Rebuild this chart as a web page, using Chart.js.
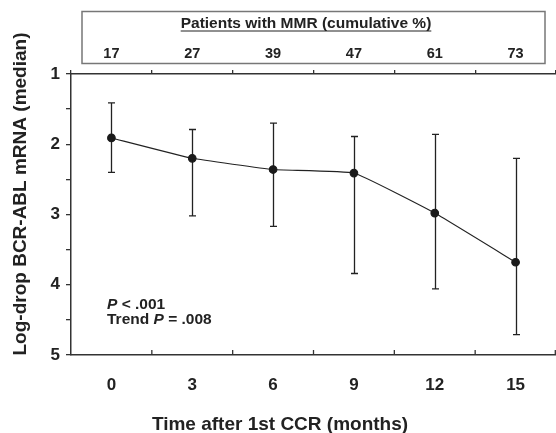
<!DOCTYPE html>
<html>
<head>
<meta charset="utf-8">
<script src="https://cdn.jsdelivr.net/npm/chart.js@4"></script>
<style>
  body { margin: 0; background: #fff; }
  #wrap { width: 556px; height: 433px; }
</style>
</head>
<body>
<div id="wrap"><canvas id="chart" width="556" height="433"></canvas></div>
<script>
const months = ["0", "3", "6", "9", "12", "15"];
const mmrPercent = [17, 27, 39, 47, 61, 73];
const medianLogDrop = [1.91, 2.20, 2.36, 2.41, 2.98, 3.68];
const errTop = [1.41, 1.79, 1.70, 1.89, 1.86, 2.20];
const errBottom = [2.40, 3.02, 3.17, 3.84, 4.06, 4.71];

const FONT = "'Liberation Sans', Arial, sans-serif";
const INK = "#222";
const AXIS = "#333";

// error bars, box on top, inner ticks, titles
const extras = {
    id: "extras",
    beforeDatasetsDraw(chart) {
        const ctx = chart.ctx;
        const x = chart.scales.x, y = chart.scales.y;
        ctx.save();
        ctx.strokeStyle = INK;
        ctx.lineWidth = 1.3;
        for (let i = 0; i < months.length; i++) {
            const px = Math.round(x.getPixelForValue(i)) + 0.5;
            const top = y.getPixelForValue(errTop[i]);
            const bot = y.getPixelForValue(errBottom[i]);
            ctx.beginPath();
            ctx.moveTo(px, top); ctx.lineTo(px, bot);
            ctx.moveTo(px - 3.5, top); ctx.lineTo(px + 3.5, top);
            ctx.moveTo(px - 3.5, bot); ctx.lineTo(px + 3.5, bot);
            ctx.stroke();
        }
        ctx.restore();
    },
    afterDraw(chart) {
        const ctx = chart.ctx;
        const x = chart.scales.x;
        const area = chart.chartArea;
        ctx.save();

        // inward tick marks on bottom axis
        ctx.strokeStyle = AXIS;
        ctx.lineWidth = 1.3;
        for (let i = 0; i < months.length; i++) {
            const right = i < months.length - 1
                ? (x.getPixelForValue(i) + x.getPixelForValue(i + 1)) / 2
                : area.right - 0.7;
            ctx.beginPath();
            ctx.moveTo(right, area.bottom);
            ctx.lineTo(right, area.bottom - 5);
            ctx.stroke();
        }

        // box with MMR percentages
        ctx.strokeStyle = "#777";
        ctx.lineWidth = 1.5;
        ctx.strokeRect(82, 11.5, 463, 52);

        ctx.fillStyle = INK;
        ctx.textAlign = "center";
        ctx.textBaseline = "alphabetic";
        ctx.font = "bold 15.5px " + FONT;
        const boxTitle = "Patients with MMR (cumulative %)";
        ctx.fillText(boxTitle, 306, 28);
        const tw = ctx.measureText(boxTitle).width;
        ctx.strokeStyle = INK;
        ctx.lineWidth = 1.2;
        ctx.beginPath();
        ctx.moveTo(306 - tw / 2, 31); ctx.lineTo(306 + tw / 2, 31);
        ctx.stroke();

        ctx.font = "bold 14.5px " + FONT;
        mmrPercent.forEach((v, i) => {
            ctx.fillText(String(v), x.getPixelForValue(i), 57.5);
        });

        // axis titles
        ctx.font = "bold 19px " + FONT;
        ctx.fillText("Time after 1st CCR (months)", 280, 430);
        ctx.save();
        ctx.translate(26, 194);
        ctx.rotate(-Math.PI / 2);
        ctx.fillText("Log-drop BCR-ABL mRNA (median)", 0, 0);
        ctx.restore();

        // p-values
        ctx.textAlign = "left";
        const parts1 = [["italic bold", "P"], ["bold", " < .001"]];
        const parts2 = [["bold", "Trend "], ["italic bold", "P"], ["bold", " = .008"]];
        [[parts1, 309], [parts2, 324]].forEach(([parts, by]) => {
            let cx = 107;
            parts.forEach(([style, txt]) => {
                ctx.font = style + " 15.5px " + FONT;
                ctx.fillText(txt, cx, by);
                cx += ctx.measureText(txt).width;
            });
        });

        ctx.restore();
    }
};

const fitX = h => s => { s.height = h; s.paddingLeft = 0; s.paddingRight = 0; };

new Chart(document.getElementById("chart"), {
    type: "line",
    data: {
        labels: months,
        datasets: [{
            data: medianLogDrop,
            borderColor: INK,
            borderWidth: 1.1,
            pointRadius: 3.8,
            pointBackgroundColor: "#1a1a1a",
            pointBorderColor: "#1a1a1a",
            tension: 0.1
        }]
    },
    options: {
        responsive: false,
        animation: false,
        layout: { padding: 0, autoPadding: false },
        plugins: { legend: { display: false }, tooltip: { enabled: false } },
        scales: {
            x: {
                position: "bottom",
                offset: true,
                afterFit: fitX(78),
                grid: { offset: true, drawOnChartArea: false, drawTicks: false },
                border: { display: true, color: AXIS, width: 1.5 },
                ticks: { color: INK, padding: 20, font: { family: FONT, size: 17, weight: "bold" } }
            },
            x2: {
                position: "top",
                type: "category",
                offset: true,
                afterFit: fitX(74),
                grid: { offset: true, drawOnChartArea: false, tickLength: 4, color: AXIS, lineWidth: 1.3 },
                border: { display: true, color: AXIS, width: 1.5 },
                ticks: { display: false }
            },
            y: {
                min: 1,
                max: 5,
                reverse: true,
                afterFit: s => { s.width = 71; s.paddingTop = 0; s.paddingBottom = 0; },
                grid: { drawOnChartArea: false, tickLength: 5, color: AXIS, lineWidth: 1.3 },
                border: { display: true, color: AXIS, width: 1.5 },
                ticks: {
                    stepSize: 0.5,
                    padding: 6,
                    color: INK,
                    font: { family: FONT, size: 17, weight: "bold" },
                    callback: v => Number.isInteger(v) ? String(v) : ""
                }
            }
        }
    },
    plugins: [extras]
});
</script>
</body>
</html>
